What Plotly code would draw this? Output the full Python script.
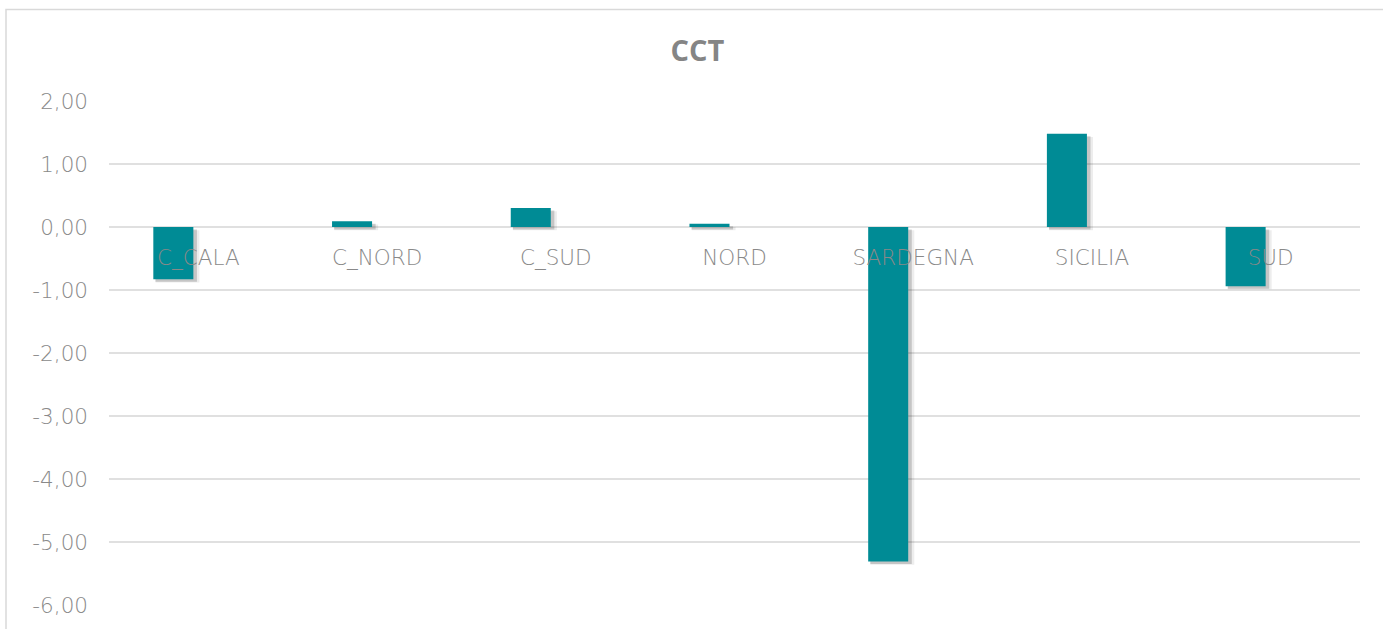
import plotly.graph_objects as go

categories = ["C_CALA", "C_NORD", "C_SUD", "NORD", "SARDEGNA", "SICILIA", "SUD"]
values = [-0.83, 0.09, 0.30, 0.05, -5.31, 1.48, -0.94]
y_tick_vals = [2, 1, 0, -1, -2, -3, -4, -5, -6]
y_tick_text = ["2,00", "1,00", "0,00", "-1,00", "-2,00", "-3,00", "-4,00", "-5,00", "-6,00"]
title_text = "CCT"

BAR_COLOR = "#008B95"
TEXT_COLOR = "#898989"
GRID_COLOR = "#E0E0E0"
FONT = "DejaVu Sans"

bar_w = 0.224
bar_off = -0.252

fig = go.Figure()
# soft shadow layers
fig.add_trace(go.Bar(x=categories, y=values, base=-0.05, width=bar_w + 0.022,
                     offset=bar_off + 0.012, marker=dict(color="rgba(0,0,0,0.07)", line_width=0),
                     hoverinfo="skip", showlegend=False))
fig.add_trace(go.Bar(x=categories, y=values, base=-0.04, width=bar_w + 0.008,
                     offset=bar_off + 0.012, marker=dict(color="rgba(0,0,0,0.17)", line_width=0),
                     hoverinfo="skip", showlegend=False))
fig.add_trace(go.Bar(x=categories, y=values, width=bar_w, offset=bar_off,
                     marker=dict(color=BAR_COLOR, line_width=0), name="CCT", showlegend=False))

fig.update_layout(
    width=1383, height=629,
    margin=dict(l=109, r=23, t=101, b=24),
    paper_bgcolor="white", plot_bgcolor="white",
    barmode="overlay",
    font=dict(family=FONT, color=TEXT_COLOR, size=21.5),
    title=dict(text="<b>" + title_text + "</b>", x=697.5 / 1383, xref="container", xanchor="center",
               y=1 - 51 / 629, yref="container", yanchor="middle",
               font=dict(family="Open Sans", size=29, color="#858585")),
    xaxis=dict(type="category", anchor="free", position=0.75, showgrid=False, showline=False,
               zeroline=False, ticks="", ticklabelstandoff=15,
               tickfont=dict(family=FONT, size=21.5, color=TEXT_COLOR, weight=300)),
    yaxis=dict(range=[-6, 2], tickvals=y_tick_vals, ticktext=y_tick_text, showgrid=True,
               gridcolor=GRID_COLOR, gridwidth=1.5, zeroline=True, zerolinecolor=GRID_COLOR,
               zerolinewidth=1.5, showline=False, ticks="", ticklabelstandoff=20,
               tickfont=dict(family=FONT, size=21.5, color=TEXT_COLOR, weight=300)),
    shapes=[dict(type="rect", xref="paper", yref="paper",
                 x0=(6 - 109) / 1251, x1=(1392 - 109) / 1251,
                 y0=-0.2, y1=(605 - 9.5) / 504,
                 line=dict(color="#D9D9D9", width=1.5), fillcolor="rgba(0,0,0,0)", layer="below")],
)

fig.write_html("out.html", config={"displayModeBar": False},
               post_script="document.body.style.margin='0';document.body.style.overflow='hidden';")
